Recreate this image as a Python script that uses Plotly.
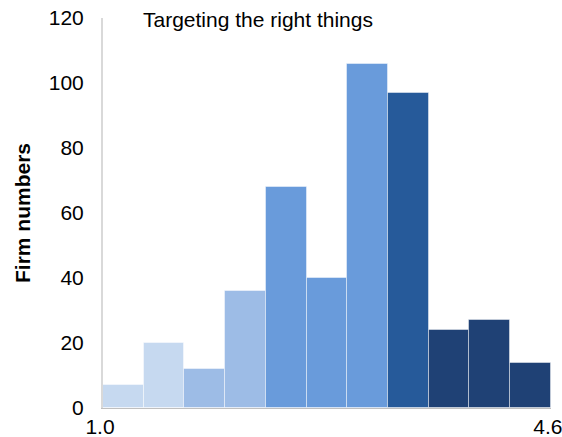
import numpy as np
import plotly.graph_objects as go

title_text = "Targeting the right things"
y_title = "Firm numbers"
x_start, x_end = 1.0, 4.6
counts = [7, 20, 12, 36, 68, 40, 106, 97, 24, 27, 14]
bar_colors = ["#c6d9f0", "#c6d9f0", "#9dbce6", "#9dbce6", "#699bdb", "#699bdb",
              "#699bdb", "#265a9a", "#1f4175", "#1f4175", "#1f4175"]
x_tick_vals = [1.0, 4.6]
x_tick_text = ["1.0", "4.6"]
y_ticks = [0, 20, 40, 60, 80, 100, 120]

n = len(counts)
edges = np.linspace(x_start, x_end, n + 1)
centers = (edges[:-1] + edges[1:]) / 2
width = (x_end - x_start) / n

font = "Liberation Sans, Arial, sans-serif"
FS = 21

fig = go.Figure(go.Bar(
    x=centers, y=counts, width=width,
    marker=dict(color=bar_colors, line=dict(color="rgba(255,255,255,0.45)", width=1)),
    hoverinfo="skip",
))

fig.update_layout(
    width=562, height=437,
    margin=dict(l=103, r=11, t=18, b=29, autoexpand=False),
    paper_bgcolor="white", plot_bgcolor="white",
    showlegend=False, bargap=0,
    font=dict(family=font, size=FS, color="#000000"),
    xaxis=dict(range=[x_start, x_end + 0.0005], tickvals=x_tick_vals, ticktext=x_tick_text,
               showgrid=False, zeroline=False, showline=True, linecolor="#bfbfbf",
               linewidth=1, ticks="", ticklabelstandoff=0, ticklabelshift=-3,
               automargin=False, ticklabeloverflow="allow", tickfont=dict(size=FS)),
    yaxis=dict(range=[0, 120], tickvals=y_ticks, showgrid=False, zeroline=False,
               showline=True, linecolor="#d9d9d9", linewidth=2, ticks="",
               ticklabelstandoff=13, tickfont=dict(size=FS), automargin=False,
               ticklabeloverflow="allow",
               title=dict(text="<b>" + y_title + "</b>", font=dict(size=FS), standoff=12)),
    annotations=[dict(text=title_text, x=(141 - 103) / 448, y=1 + 12 / 390,
                      xref="paper", yref="paper", xanchor="left", yanchor="top",
                      showarrow=False, font=dict(size=FS))],
)
fig.write_html("out.html", config={"displayModeBar": False},
               post_script="document.body.style.margin='0';document.body.style.overflow='hidden';")
